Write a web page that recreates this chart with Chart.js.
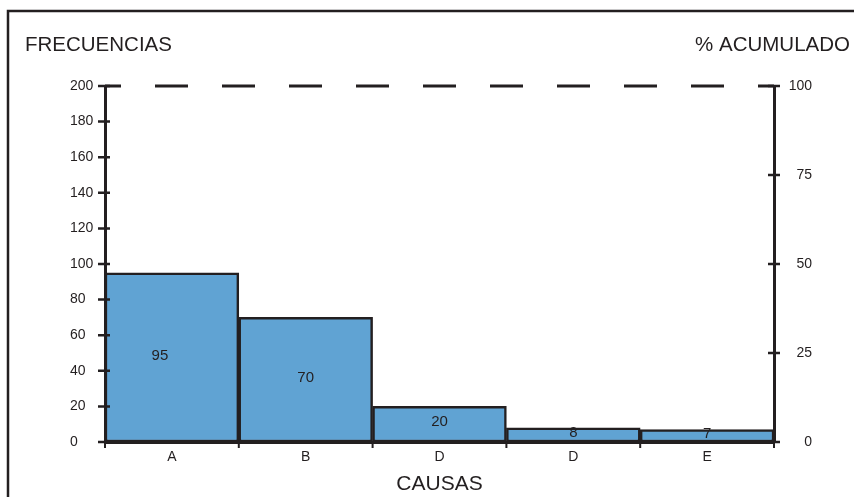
<!DOCTYPE html>
<html>
<head>
<meta charset="utf-8">
<script src="https://cdn.jsdelivr.net/npm/chart.js@4/dist/chart.umd.min.js"></script>
<style>
  html, body { margin: 0; padding: 0; background: #ffffff; }
  #wrap { width: 854px; height: 497px; }
</style>
</head>
<body>
<div id="wrap"><canvas id="pareto" width="854" height="497"></canvas></div>
<script>
// Causas y frecuencias del diagrama de Pareto
const causas = ['A', 'B', 'D', 'D', 'E'];
const frecuencias = [95, 70, 20, 8, 7];

// Escalas: frecuencias a la izquierda, porcentaje acumulado a la derecha
const ejeFrecuencia = { min: 0, max: 200, paso: 20 };
const ejePorcentaje = { min: 0, max: 100, paso: 25 };

const TINTA = '#231f20';
const FUENTE = '"Liberation Sans", Arial, Helvetica, sans-serif';

// Marco, línea discontinua del 100 %, marcas de los ejes, valores y rótulos superiores
const decoraciones = {
  id: 'decoraciones',
  beforeDraw(chart) {
    const { ctx, width, height } = chart;
    ctx.save();
    ctx.fillStyle = '#ffffff';
    ctx.fillRect(0, 0, width, height);
    ctx.strokeStyle = TINTA;
    ctx.lineWidth = 2.5;
    ctx.beginPath();
    ctx.moveTo(8, height);
    ctx.lineTo(8, 11);
    ctx.lineTo(width, 11);
    ctx.stroke();
    ctx.restore();
  },
  afterDraw(chart, args, opts) {
    const { ctx, chartArea, scales } = chart;
    const { x, y, y2 } = scales;
    ctx.save();
    ctx.strokeStyle = TINTA;

    // línea discontinua en el máximo de frecuencias (100 % acumulado)
    const yTope = y.getPixelForValue(ejeFrecuencia.max);
    ctx.lineWidth = 3;
    ctx.setLineDash([33, 34]);
    ctx.lineDashOffset = 17;
    ctx.beginPath();
    ctx.moveTo(chartArea.left, yTope);
    ctx.lineTo(chartArea.right, yTope);
    ctx.stroke();
    ctx.setLineDash([]);

    // marcas que cruzan los ejes verticales
    ctx.lineWidth = 2.5;
    ctx.beginPath();
    for (let v = ejeFrecuencia.min; v <= ejeFrecuencia.max; v += ejeFrecuencia.paso) {
      const py = y.getPixelForValue(v);
      ctx.moveTo(chartArea.left - 7, py);
      ctx.lineTo(chartArea.left + 5, py);
    }
    for (let v = ejePorcentaje.min; v <= ejePorcentaje.max; v += ejePorcentaje.paso) {
      const py = y2.getPixelForValue(v);
      ctx.moveTo(chartArea.right - 6, py);
      ctx.lineTo(chartArea.right + 6, py);
    }
    ctx.stroke();

    // marcas del eje de causas en los límites de cada categoría
    const ancho = (x.getPixelForValue(1) - x.getPixelForValue(0));
    ctx.lineWidth = 2;
    ctx.beginPath();
    for (let i = 0; i <= causas.length; i++) {
      const px = x.getPixelForValue(0) + (i - 0.5) * ancho;
      ctx.moveTo(px, chartArea.bottom);
      ctx.lineTo(px, chartArea.bottom + 6);
    }
    ctx.stroke();

    // valor de cada barra
    ctx.fillStyle = TINTA;
    ctx.font = '15px ' + FUENTE;
    ctx.textAlign = 'center';
    ctx.textBaseline = 'middle';
    const meta = chart.getDatasetMeta(0);
    meta.data.forEach((barra, i) => {
      const dx = (opts.dx && opts.dx[i]) || 0;
      ctx.fillText(String(frecuencias[i]), barra.x + dx, (barra.y + barra.base) / 2 - 2);
    });

    // rótulos de los ejes verticales
    ctx.font = '20.5px ' + FUENTE;
    ctx.textAlign = 'left';
    ctx.fillText('FRECUENCIAS', 25, 45);
    ctx.textAlign = 'right';
    ctx.fillText('% ACUMULADO', 850, 45);
    ctx.restore();
  }
};

new Chart(document.getElementById('pareto'), {
  type: 'bar',
  data: {
    labels: causas,
    datasets: [{
      label: 'Frecuencia',
      data: frecuencias,
      backgroundColor: '#60a3d3',
      borderColor: TINTA,
      borderWidth: 2.5,
      borderSkipped: false,
      barPercentage: 1,
      categoryPercentage: 1,
      yAxisID: 'y'
    }]
  },
  options: {
    responsive: false,
    animation: false,
    events: [],
    layout: { padding: { left: 70, right: 42, top: 86, bottom: 0 } },
    plugins: {
      legend: { display: false },
      tooltip: { enabled: false },
      decoraciones: { dx: [-12, 0, 0, 0, 0] }
    },
    scales: {
      x: {
        type: 'category',
        offset: true,
        grid: { display: false, drawTicks: false },
        border: { display: true, color: TINTA, width: 3 },
        ticks: { color: TINTA, font: { family: FUENTE, size: 14 }, padding: 7, maxRotation: 0, autoSkip: false },
        title: { display: true, text: 'CAUSAS', color: TINTA, font: { family: FUENTE, size: 21 }, padding: { top: 0, bottom: 0 } },
        afterFit(scale) { scale.height = 55; }
      },
      y: {
        position: 'left',
        min: ejeFrecuencia.min,
        max: ejeFrecuencia.max,
        grid: { display: false, drawTicks: false },
        border: { display: true, color: TINTA, width: 3 },
        ticks: { stepSize: ejeFrecuencia.paso, color: TINTA, crossAlign: 'far', font: { family: FUENTE, size: 14 }, padding: 10 },
        afterFit(scale) { scale.width = 35; }
      },
      y2: {
        position: 'right',
        min: ejePorcentaje.min,
        max: ejePorcentaje.max,
        grid: { display: false, drawTicks: false },
        border: { display: true, color: TINTA, width: 3 },
        ticks: { stepSize: ejePorcentaje.paso, color: TINTA, crossAlign: 'far', font: { family: FUENTE, size: 14 }, padding: 10 },
        afterFit(scale) { scale.width = 38; }
      }
    }
  },
  plugins: [decoraciones]
});
</script>
</body>
</html>
